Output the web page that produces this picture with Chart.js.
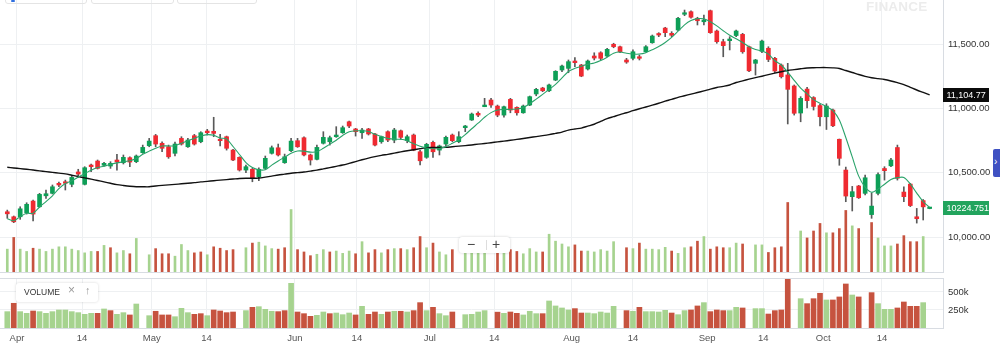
<!DOCTYPE html>
<html><head><meta charset="utf-8">
<script src="https://cdn.jsdelivr.net/npm/chart.js@4.4.1/dist/chart.umd.min.js"></script>
<style>
html,body{margin:0;padding:0;background:#fff;width:1000px;height:356px;overflow:hidden;font-family:"Liberation Sans",Arial,sans-serif}
#wrap{position:relative;width:1000px;height:356px}
canvas{position:absolute;left:0}
#c1{top:0}
#c2{top:272px}
.ov{position:absolute;z-index:5}
#zoomctl{left:459px;top:237px;width:51px;height:16px;background:#fff;border-radius:3px;box-shadow:0 0 3px rgba(0,0,0,0.18)}
#zoomctl span{position:absolute;top:-1px;font-size:14px;color:#444;line-height:16px}
#zoomctl i{position:absolute;left:27px;top:3px;width:1px;height:10px;background:#ddd}
#vlegend{left:16px;top:283px;width:82px;height:19px;background:#fff;border-radius:3px;box-shadow:0 0 3px rgba(0,0,0,0.16)}
#vlegend span{position:absolute;top:4px;font-size:8.5px;color:#333;line-height:11px}
#wm{left:866px;top:-1px;font-size:13.5px;font-weight:bold;color:#ececec;letter-spacing:0.2px}
#tab{left:993px;top:149px;width:7px;height:28px;background:#3f51c2;border-radius:2px 0 0 2px}
#tab span{position:absolute;left:1px;top:7px;color:#fff;font-size:10px;line-height:12px}
.tb{position:absolute;top:-20px;height:22px;border:1px solid #e4e4e4;border-radius:3px;z-index:5}
</style></head>
<body><div id="wrap">
<canvas id="c1" width="1000" height="273"></canvas>
<canvas id="c2" width="1000" height="84"></canvas>
<div class="tb" style="left:5px;width:80px"></div>
<div class="tb" style="left:91px;width:81px"></div>
<div class="tb" style="left:177px;width:78px"></div>
<div class="ov" style="left:11px;top:0;width:4px;height:2px;background:#2f6fe0;border-radius:1px"></div>
<div id="wm" class="ov">FINANCE</div>
<div id="tab" class="ov"><span>&#x203A;</span></div>
<div id="zoomctl" class="ov"><span style="left:8px">&minus;</span><i></i><span style="left:33px">+</span></div>
<div id="vlegend" class="ov"><span style="left:8px">VOLUME</span><span style="left:52px;top:2px;font-size:12px;color:#9a9a9a">&times;</span><span style="left:69px;top:2px;font-size:11px;color:#9a9a9a">&uarr;</span></div>
</div>
<script>
// ---------- data ----------
const opens  = [10197,10158,10158,10189,10280,10236,10321,10340,10418,10430,10410,10506,10410,10560,10591,10558,10552,10599,10578,10617,10586,10656,10710,10788,10729,10702,10651,10767,10702,10788,10741,10824,10822,10760,10780,10676,10620,10521,10527,10469,10534,10651,10694,10578,10671,10749,10772,10638,10604,10729,10741,10780,10811,10896,10840,10811,10840,10801,10741,10819,10754,10826,10749,10793,10663,10620,10736,10676,10723,10793,10741,10850,10910,10962,11013,11065,11018,10948,11070,11008,10966,11026,11112,11158,11137,11220,11298,11311,11368,11337,11306,11407,11432,11407,11498,11479,11376,11389,11401,11440,11510,11580,11624,11583,11609,11731,11751,11700,11673,11759,11601,11518,11526,11566,11575,11479,11350,11443,11467,11389,11337,11260,11174,10964,11150,11084,11022,10935,10987,10760,10521,10314,10397,10340,10175,10340,10533,10554,10696,10350,10412,10158,10284,10222];
const highs  = [10210,10164,10236,10267,10288,10340,10366,10405,10428,10443,10475,10527,10547,10568,10599,10580,10586,10643,10638,10624,10638,10715,10767,10798,10741,10715,10739,10780,10767,10798,10819,10837,10931,10798,10785,10682,10624,10560,10534,10539,10630,10708,10723,10645,10767,10767,10780,10645,10715,10819,10785,10858,10863,10902,10845,10845,10845,10806,10785,10826,10845,10832,10793,10801,10676,10729,10746,10715,10785,10801,10819,10868,10964,10974,11078,11078,11026,11018,11078,11013,11026,11096,11156,11164,11189,11293,11337,11376,11394,11342,11376,11432,11440,11467,11506,11485,11389,11454,11415,11487,11570,11588,11630,11596,11708,11764,11757,11708,11725,11764,11609,11537,11557,11609,11583,11485,11381,11531,11479,11397,11345,11350,11182,11091,11164,11091,11034,11036,10995,10762,10544,10394,10402,10482,10342,10500,10547,10612,10715,10391,10418,10223,10292,10228];
const lows   = [10146,10112,10138,10179,10125,10231,10301,10335,10391,10366,10391,10464,10405,10508,10529,10552,10534,10521,10568,10547,10578,10651,10702,10702,10663,10612,10630,10715,10697,10715,10733,10793,10780,10708,10676,10593,10513,10500,10430,10438,10527,10645,10630,10573,10663,10697,10630,10560,10599,10723,10715,10775,10806,10850,10785,10767,10793,10708,10729,10741,10733,10760,10733,10671,10560,10612,10620,10638,10708,10741,10733,10819,10906,10935,11013,11008,10935,10931,10966,10948,10962,11021,11098,11130,11130,11215,11285,11277,11324,11246,11298,11376,11376,11401,11471,11432,11350,11376,11376,11436,11506,11557,11557,11557,11603,11720,11700,11648,11648,11583,11506,11401,11454,11557,11428,11285,11259,11432,11363,11277,11236,10879,10948,10896,11003,10987,10863,10836,10858,10558,10275,10203,10300,10327,10146,10327,10443,10547,10443,10276,10237,10109,10133,10220];
const closes = [10181,10119,10220,10255,10179,10332,10337,10391,10405,10418,10464,10490,10539,10547,10534,10573,10573,10583,10620,10583,10630,10697,10746,10723,10690,10624,10723,10723,10754,10723,10811,10811,10806,10749,10690,10599,10521,10547,10457,10527,10612,10694,10638,10624,10746,10702,10638,10599,10697,10775,10772,10793,10850,10863,10819,10832,10801,10715,10780,10754,10832,10775,10780,10676,10593,10721,10663,10708,10775,10749,10780,10863,10956,10948,11026,11026,10948,11013,10987,10966,11018,11091,11148,11137,11182,11288,11329,11363,11355,11251,11368,11391,11389,11459,11479,11440,11360,11440,11389,11479,11562,11570,11588,11568,11700,11743,11708,11681,11687,11588,11518,11487,11539,11601,11440,11292,11376,11523,11380,11290,11246,11148,10962,11078,11060,11015,10935,11018,10865,10612,10319,10353,10306,10461,10241,10486,10516,10599,10457,10314,10245,10143,10235,10224.751];
const volumes = [227000,343000,227000,204000,236000,227000,204000,227000,250000,250000,227000,213000,190000,204000,204000,264000,241000,190000,213000,181000,333000,null,171000,232000,181000,181000,157000,273000,213000,190000,199000,171000,250000,236000,213000,222000,null,241000,287000,296000,259000,232000,227000,241000,620000,222000,199000,162000,176000,222000,199000,208000,185000,208000,181000,301000,190000,222000,190000,222000,232000,232000,222000,241000,352000,241000,287000,199000,171000,222000,null,185000,190000,222000,241000,null,220000,204000,222000,204000,181000,232000,199000,199000,375000,306000,278000,250000,269000,208000,208000,199000,222000,208000,301000,null,241000,232000,287000,227000,227000,222000,245000,208000,185000,241000,250000,306000,352000,227000,250000,241000,241000,287000,278000,null,269000,269000,194000,241000,250000,690000,null,407000,338000,407000,482000,389000,389000,431000,611000,458000,431000,null,491000,338000,259000,259000,278000,361000,301000,301000,352000,null];
const volDir = [1,-1,1,1,-1,1,1,1,1,1,1,1,1,1,-1,1,-1,1,1,-1,1,0,1,-1,-1,-1,1,1,1,-1,-1,1,-1,-1,-1,-1,0,1,-1,1,1,1,-1,-1,1,-1,-1,-1,1,1,-1,1,1,1,-1,1,-1,-1,1,-1,1,-1,1,-1,-1,1,-1,1,1,-1,0,1,1,1,1,0,-1,1,-1,-1,1,1,1,-1,1,1,1,1,-1,-1,1,1,1,1,1,0,-1,1,-1,1,1,1,1,-1,1,1,-1,-1,1,-1,-1,-1,1,1,-1,0,1,1,-1,-1,-1,-1,0,1,-1,-1,-1,1,-1,-1,-1,1,-1,0,-1,1,1,1,-1,-1,-1,-1,1,0];
const maShort = [10143,10127,10159,10185,10185,10234,10276,10321,10376,10416,10437,10467,10493,10520,10541,10551,10566,10577,10585,10593,10610,10643,10668,10691,10708,10708,10710,10729,10748,10767,10786,10796,10791,10770,10762,10704,10642,10579,10540,10523,10524,10559,10591,10621,10651,10669,10668,10660,10663,10690,10722,10753,10790,10818,10826,10826,10820,10799,10781,10767,10761,10760,10749,10725,10706,10692,10687,10689,10703,10729,10757,10796,10842,10885,10931,10967,10988,10992,10993,10995,11007,11036,11072,11109,11147,11186,11237,11287,11311,11328,11342,11353,11372,11398,11429,11438,11428,11422,11422,11433,11456,11480,11512,11551,11600,11649,11682,11697,11696,11673,11641,11603,11568,11541,11512,11479,11457,11446,11422,11370,11337,11281,11218,11157,11113,11068,11039,11014,10983,10910,10774,10623,10474,10388,10348,10373,10411,10448,10462,10464,10414,10342,10276,10231];
const maLong = [10543,10537,10532,10527,10521,10515,10509,10503,10497,10491,10481,10471,10460,10450,10440,10429,10418,10408,10401,10395,10391,10391,10391,10397,10402,10406,10410,10414,10418,10423,10429,10433,10438,10443,10447,10451,10455,10457,10457,10459,10466,10474,10483,10489,10496,10501,10506,10513,10520,10530,10540,10550,10560,10573,10587,10601,10614,10625,10635,10643,10652,10662,10671,10679,10687,10695,10696,10696,10697,10702,10707,10711,10716,10722,10727,10733,10740,10746,10752,10759,10766,10774,10781,10788,10796,10806,10816,10831,10840,10847,10862,10877,10899,10920,10936,10952,10966,10982,10997,11011,11025,11040,11056,11070,11086,11098,11111,11123,11136,11150,11162,11171,11182,11201,11214,11227,11239,11250,11262,11274,11285,11294,11301,11308,11314,11316,11317,11317,11315,11310,11294,11279,11263,11249,11238,11231,11224,11213,11200,11185,11164,11143,11124,11104.77];
const tickIdx    = [1.5, 11.6, 22.4, 30.9, 44.6, 54.2, 65.5, 75.5, 87.5, 97.0, 108.5, 117.2, 126.5, 135.6];
const tickLabels = ['Apr','14','May','14','Jun','14','Jul','14','Aug','14','Sep','14','Oct','14'];
const priceTicks = [10000, 10500, 11000, 11500];
const volTicks   = [250000, 500000];

// ---------- setup ----------
const FONT = '"Liberation Sans", Arial, sans-serif';
Chart.defaults.font.family = FONT;
const X_MIN = -1.13, X_MAX = 145.07;
const GRID = '#eef0f2', BORDER = '#d8dce2';
const UP = '#0e9f57', DOWN = '#ef2a31';
const VUP = '#a6d38f', VDOWN = '#c6533f';
const idx = opens.map((_, i) => i);
const bodyData = idx.map(i => ({x: i, y: [opens[i], closes[i]]}));
const wickData = idx.map(i => ({x: i, y: [lows[i], highs[i]]}));
const volData  = idx.map(i => ({x: i, y: volumes[i]}));
const candleCol = idx.map(i => closes[i] >= opens[i] ? UP : DOWN);
const volCol = volDir.map(d => d > 0 ? VUP : VDOWN);
const maS = idx.map(i => ({x: i, y: maShort[i]}));
const maL = idx.map(i => ({x: i, y: maLong[i]}));
const noPad = s => { s.paddingTop = 0; s.paddingBottom = 0; s.paddingLeft = 0; s.paddingRight = 0; };
const fmt2 = v => v.toLocaleString('en-US', {minimumFractionDigits: 2, maximumFractionDigits: 2});

const valueLabels = {
  id: 'valueLabels',
  afterDraw(chart) {
    const ctx = chart.ctx, y = chart.scales.y, left = chart.chartArea.right;
    const n = closes.length - 1;
    const box = (val, text, bg) => {
      const py = Math.round(y.getPixelForValue(val));
      ctx.save();
      ctx.fillStyle = bg;
      ctx.beginPath(); ctx.rect(left, py - 7, 46, 14); ctx.fill(); ctx.clip();
      ctx.fillStyle = '#fff';
      ctx.font = '9px ' + FONT;
      ctx.textBaseline = 'middle'; ctx.textAlign = 'left';
      ctx.fillText(text, left + 3.5, py + 0.5);
      ctx.restore();
    };
    box(maLong[n], fmt2(maLong[n]), '#0b0b0b');
    box(closes[n], String(closes[n]), '#22a45d');
  }
};

const topLine = {
  id: 'topLine',
  afterDraw(chart) {
    const {ctx, chartArea} = chart;
    ctx.save(); ctx.strokeStyle = BORDER; ctx.lineWidth = 1;
    ctx.beginPath(); ctx.moveTo(0, chartArea.top + 0.5); ctx.lineTo(chartArea.right, chartArea.top + 0.5); ctx.stroke();
    ctx.restore();
  }
};

const xTicksBuild = s => { s.ticks = tickIdx.map(v => ({value: v})); };

// ---------- price chart ----------
new Chart(document.getElementById('c1'), {
  type: 'bar',
  data: {datasets: [
    {type: 'line', data: maS, borderColor: '#2aa36a', borderWidth: 1.1, pointRadius: 0, tension: 0.3, yAxisID: 'y', order: 0},
    {type: 'line', data: maL, borderColor: '#111', borderWidth: 1.4, pointRadius: 0, tension: 0.3, yAxisID: 'y', order: 1},
    {data: bodyData, backgroundColor: candleCol, barThickness: 4, minBarLength: 1.5, grouped: false, yAxisID: 'y', order: 2},
    {data: wickData, backgroundColor: '#595959', barThickness: 1, grouped: false, yAxisID: 'y', order: 3},
    {data: volData, backgroundColor: volCol, barThickness: 2, grouped: false, yAxisID: 'yv', order: 4}
  ]},
  options: {
    responsive: false, animation: false, events: [],
    layout: {padding: {top: 0, left: 0, right: 0, bottom: 1}},
    plugins: {legend: {display: false}, tooltip: {enabled: false}},
    scales: {
      x: {type: 'linear', min: X_MIN, max: X_MAX, offset: false,
          grid: {color: GRID, drawTicks: false, offset: false},
          border: {display: true, color: BORDER},
          ticks: {display: false},
          afterBuildTicks: xTicksBuild,
          afterFit: s => { s.height = 0; noPad(s); }},
      y: {type: 'linear', position: 'right', min: 9729, max: 11842,
          grid: {color: GRID, drawTicks: false},
          border: {display: true, color: BORDER},
          ticks: {padding: 5, color: '#333', font: {size: 9.5}, callback: v => fmt2(v)},
          afterBuildTicks: s => { s.ticks = priceTicks.map(v => ({value: v})); },
          afterFit: s => { s.width = 57; noPad(s); }},
      yv: {type: 'linear', display: false, min: 0, max: 2700000}
    }
  },
  plugins: [valueLabels]
});

// ---------- volume chart ----------
new Chart(document.getElementById('c2'), {
  type: 'bar',
  data: {datasets: [
    {data: volData, backgroundColor: volCol, barThickness: 5, grouped: false}
  ]},
  options: {
    responsive: false, animation: false, events: [],
    layout: {padding: {top: 6, left: 0, right: 0, bottom: 0}},
    plugins: {legend: {display: false}, tooltip: {enabled: false}},
    scales: {
      x: {type: 'linear', min: X_MIN, max: X_MAX, offset: false,
          grid: {color: GRID, drawTicks: false, offset: false},
          border: {display: true, color: BORDER},
          ticks: {padding: 5, color: '#555', font: {size: 9.5}, autoSkip: false, maxRotation: 0,
                  callback: (v, i) => tickLabels[i]},
          afterBuildTicks: xTicksBuild,
          afterFit: s => { s.height = 28; noPad(s); }},
      y: {type: 'linear', position: 'right', min: 0, max: 694000,
          grid: {color: GRID, drawTicks: false},
          border: {display: true, color: BORDER},
          ticks: {padding: 5, color: '#333', font: {size: 9.5}, callback: v => (v / 1000) + 'k'},
          afterBuildTicks: s => { s.ticks = volTicks.map(v => ({value: v})); },
          afterFit: s => { s.width = 57; noPad(s); }}
    }
  },
  plugins: [topLine]
});
</script>
</body></html>
